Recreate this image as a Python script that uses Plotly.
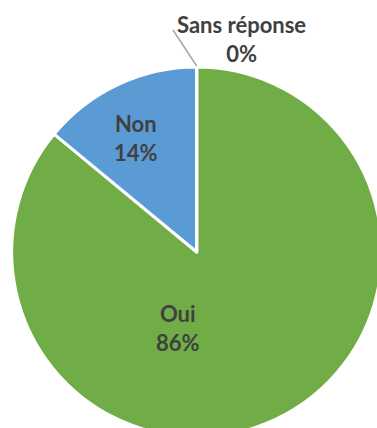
import plotly.graph_objects as go

labels = ["Oui", "Non", "Sans réponse"]
values = [86, 14, 0]
colors = ["#70AD47", "#5B9BD5", "#A5A5A5"]

W, H = 382, 440
total = sum(values)
pcts = [round(100 * v / total) for v in values]
texts = [f"<b>{l}</b><br><b>{p}%</b>" for l, p in zip(labels, pcts)]

fig = go.Figure(go.Pie(
    labels=labels,
    values=values,
    sort=False,
    direction="clockwise",
    rotation=0,
    marker=dict(colors=colors, line=dict(color="white", width=3)),
    textinfo="none",
    hoverinfo="label+percent",
    showlegend=False,
    domain=dict(x=[11.7 / W, 381.7 / W], y=[(H - 437) / H, (H - 67) / H]),
))

# label positions (pixels in page) for Oui, Non, Sans réponse
label_px = [(177.5, 327.5), (136, 137.5), (241, 38.5)]
for t, (px, py) in zip(texts, label_px):
    fig.add_annotation(
        x=px / W, y=1 - py / H, xref="paper", yref="paper",
        text=t, showarrow=False, xanchor="center", yanchor="middle",
        font=dict(family="Lato", size=22, color="#404040"),
    )

# leader line for "Sans réponse"
fig.add_shape(type="line", xref="paper", yref="paper",
              x0=173 / W, y0=1 - 30 / H, x1=196.7 / W, y1=1 - 66 / H,
              line=dict(color="#A6A6A6", width=1.5))

fig.update_layout(
    width=W, height=H,
    margin=dict(l=0, r=0, t=0, b=0),
    paper_bgcolor="white", plot_bgcolor="white",
)

fig.write_html(
    "out.html",
    config={"displayModeBar": False},
    post_script="document.body.style.margin='0';document.body.style.overflow='hidden';document.documentElement.style.overflow='hidden';",
)
